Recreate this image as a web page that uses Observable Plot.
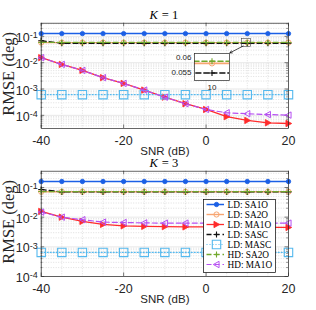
<!DOCTYPE html>
<html><head><meta charset="utf-8">
<script src="https://cdn.jsdelivr.net/npm/d3@7"></script>
<script src="https://cdn.jsdelivr.net/npm/@observablehq/plot@0.6"></script>
<style>
body{margin:0;background:#fff;}
#root{position:relative;width:316px;height:310px;overflow:hidden;background:#fff;}
.abs{position:absolute;}
</style></head><body><div id="root"></div>
<script>
// ---------- data ----------
const snr = [-40,-35,-30,-25,-20,-15,-10,-5,0,5,10,15,20];
const seriesNames = ["LD: SA1O","LD: SA2O","LD: MA1O","LD: SASC","LD: MASC","HD: SA2O","HD: MA1O"];

const k1_ld_sa1o = [0.127,0.127,0.127,0.127,0.127,0.127,0.127,0.127,0.127,0.127,0.127,0.127,0.127];
const k1_ld_sa2o = [0.058,0.058,0.058,0.058,0.058,0.058,0.058,0.058,0.058,0.058,0.058,0.058,0.058];
const k1_ld_ma1o = [0.0155,0.0086,0.0051,0.0027,0.00163,0.00091,0.00049,0.000276,0.000167,0.000089,0.000064,0.000052,0.000049];
const k1_ld_sasc = [0.068,0.0548,0.0548,0.0548,0.0548,0.0548,0.0548,0.0548,0.0548,0.0548,0.0548,0.0548,0.0548];
const k1_ld_masc = [0.00061,0.00061,0.00061,0.00061,0.00061,0.00061,0.00061,0.00061,0.00061,0.00061,0.00061,0.00061,0.00061];
const k1_hd_sa2o = [0.0587,0.0587,0.0587,0.0587,0.0587,0.0587,0.0587,0.0587,0.0587,0.0587,0.0587,0.0587,0.0587];
const k1_hd_ma1o = [0.0155,0.0086,0.0051,0.0027,0.00163,0.00091,0.00049,0.000276,0.000167,0.000125,0.000115,0.000107,0.000102];

const k3_ld_sa1o = [0.159,0.159,0.159,0.159,0.159,0.159,0.159,0.159,0.159,0.159,0.159,0.159,0.159];
const k3_ld_sa2o = [0.072,0.072,0.072,0.072,0.072,0.072,0.072,0.072,0.072,0.072,0.072,0.072,0.072];
const k3_ld_ma1o = [0.0156,0.0100,0.0072,0.0057,0.0051,0.0049,0.0048,0.0047,0.0047,0.0046,0.0046,0.0045,0.0045];
const k3_ld_sasc = [0.086,0.071,0.071,0.071,0.071,0.071,0.071,0.071,0.071,0.071,0.071,0.071,0.071];
const k3_ld_masc = [0.00065,0.00065,0.00065,0.00065,0.00065,0.00065,0.00065,0.00065,0.00065,0.00065,0.00065,0.00065,0.00065];
const k3_hd_sa2o = [0.073,0.073,0.073,0.073,0.073,0.073,0.073,0.073,0.073,0.073,0.073,0.073,0.073];
const k3_hd_ma1o = [0.0148,0.0100,0.0082,0.0068,0.0066,0.0064,0.0063,0.0063,0.0063,0.0063,0.0063,0.0063,0.0063];

const xTicks = [-40,-20,0,20];
const xTickLabels = ["-40","-20","0","20"];
const xMinor = [-35,-30,-25,-15,-10,-5,5,10,15];
const yTicks = [1e-4,1e-3,1e-2,1e-1];
const yTickLabels = ["10^-4","10^-3","10^-2","10^-1"];
const k1Domain = [3.16e-5, 0.316];
const k3Domain = [1e-4, 0.354];

// inset (K = 1) zoom region and annotation
const insetXDomain = [9.3, 10.7];
const insetYDomain = [0.0523, 0.0613];
const insetYTicks = [0.055, 0.06];
const insetYTickLabels = ["0.055", "0.06"];
const insetXTicks = [10];
const zoomBox = [{x1: 8.7, x2: 10.9, y1: 0.04, y2: 0.08}];
const zoomArrow = [{x1: 9.0, y1: 0.043, x2: 5.8, y2: 0.0236}];

// ---------- styles ----------
const triRight = {draw(c, s){const r=Math.sqrt(s/Math.PI); c.moveTo(r,0); c.lineTo(-r*0.8,-r); c.lineTo(-r*0.8,r); c.closePath();}};
const triLeft  = {draw(c, s){const r=Math.sqrt(s/Math.PI); c.moveTo(-r,0); c.lineTo(r*0.8,-r); c.lineTo(r*0.8,r); c.closePath();}};
const plusSym  = {draw(c, s){const r=Math.sqrt(s/Math.PI); c.moveTo(-r,0); c.lineTo(r,0); c.moveTo(0,-r); c.lineTo(0,r);}};
const squareSym= {draw(c, s){const r=Math.sqrt(s/Math.PI); c.rect(-r,-r,2*r,2*r);}};
const circleSym= {draw(c, s){const r=Math.sqrt(s/Math.PI); c.moveTo(r,0); c.arc(0,0,r,0,2*Math.PI);}};

const styles = [
  {stroke:"#1b5fe5", dash:null,  symbol:circleSym, fill:"#1b5fe5", r:2.2, sw:1.5, msw:0.8},
  {stroke:"#f7a571", dash:null,  symbol:circleSym, fill:"none",    r:2.6, sw:1.4, msw:1},
  {stroke:"#ff2b2b", dash:null,  symbol:triRight,  fill:"#ff2b2b", r:3.2, sw:1.3, msw:0.8},
  {stroke:"#111111", dash:"5,3", symbol:plusSym,   fill:"none",    r:3.0, sw:1.3, msw:1.1},
  {stroke:"#55b9ee", dash:"1,2", symbol:squareSym, fill:"none",    r:4.2, sw:1.2, msw:1.1},
  {stroke:"#72a82c", dash:"5,3", symbol:plusSym,   fill:"none",    r:3.0, sw:1.3, msw:1.1},
  {stroke:"#b64ff2", dash:"5,3", symbol:triLeft,   fill:"none",    r:3.2, sw:1.2, msw:1}
];

const W = 316, H = 148, ML = 40.7, MR = 28, MT = 22.7, MB = 20;
const FW = W - ML - MR, FH = H - MT - MB;
const AX = "#262626";

function seriesMarks(valsList, extra = {}) {
  const out = [];
  valsList.forEach((vals, k) => {
    const st = styles[k];
    const rows = snr.map((x, i) => ({x, y: vals[i]}));
    out.push(Plot.line(rows, {x: "x", y: "y", stroke: st.stroke, strokeWidth: st.sw, strokeDasharray: st.dash, ...extra}));
    out.push(Plot.dot(rows, {x: "x", y: "y", symbol: st.symbol, r: st.r, stroke: st.stroke, fill: st.fill, strokeWidth: st.msw, ...extra}));
  });
  return out;
}

function supLabels(svg) {
  svg.querySelectorAll('g[aria-label="y-axis tick label"] text').forEach(t => {
    const m = t.textContent.match(/^10\^(.*)$/);
    if (!m) return;
    t.textContent = "";
    const ns = "http://www.w3.org/2000/svg";
    const a = document.createElementNS(ns, "tspan"); a.textContent = "10";
    const b = document.createElementNS(ns, "tspan"); b.textContent = m[1];
    b.setAttribute("dy", "-0.42em"); b.setAttribute("font-size", "0.72em");
    t.appendChild(a); t.appendChild(b);
  });
}

function makePanel(kText, domain, valsList, extraMarks = []) {
  const minorY = d3.scaleLog().domain(domain).ticks(20).filter(v => !yTicks.some(t => Math.abs(v / t - 1) < 1e-9));
  const svg = Plot.plot({
    width: W, height: H, marginLeft: ML, marginRight: MR, marginTop: MT, marginBottom: MB,
    x: {domain: [-40, 20]},
    y: {type: "log", domain},
    style: {background: "transparent", overflow: "visible", fontFamily: "'Liberation Sans', Arial, sans-serif", color: AX},
    marks: [
      Plot.gridX(xMinor, {stroke: "#c9c9c9", strokeOpacity: 1, strokeWidth: 0.6, strokeDasharray: "1,1.5"}),
      Plot.gridY(minorY, {stroke: "#c9c9c9", strokeOpacity: 1, strokeWidth: 0.6, strokeDasharray: "1,1.5"}),
      Plot.gridX(xTicks, {stroke: "#dedede", strokeOpacity: 1, strokeWidth: 0.7}),
      Plot.gridY(yTicks, {stroke: "#dedede", strokeOpacity: 1, strokeWidth: 0.7}),
      Plot.tickY(yTicks, {y: d => d, insetRight: FW - 3.5, stroke: AX, strokeWidth: 0.6}),
      Plot.tickY(yTicks, {y: d => d, insetLeft: FW - 3.5, stroke: AX, strokeWidth: 0.6}),
      Plot.tickY(minorY, {y: d => d, insetRight: FW - 1.8, stroke: AX, strokeWidth: 0.5}),
      Plot.tickY(minorY, {y: d => d, insetLeft: FW - 1.8, stroke: AX, strokeWidth: 0.5}),
      Plot.tickX(xTicks, {x: d => d, insetTop: FH - 3.5, stroke: AX, strokeWidth: 0.6}),
      Plot.tickX(xTicks, {x: d => d, insetBottom: FH - 3.5, stroke: AX, strokeWidth: 0.6}),
      ...seriesMarks(valsList),
      ...extraMarks,
      Plot.frame({stroke: AX, strokeWidth: 0.7}),
      Plot.axisX(xTicks, {tickSize: 0, tickPadding: 8, tickFormat: d => xTickLabels[xTicks.indexOf(d)], fontSize: 12.5, label: null, fill: AX}),
      Plot.axisY(yTicks, {tickSize: 0, tickPadding: 3.5, tickFormat: d => yTickLabels[yTicks.indexOf(d)], fontSize: 12.5, label: null, fill: AX, dy: 1.5}),
      Plot.text(["SNR (dB)"], {frameAnchor: "bottom", text: d => d, dy: 22.7, lineAnchor: "middle", fontSize: 11.5, fill: AX}),
      Plot.text(["RMSE (deg)"], {frameAnchor: "left", text: d => d, dx: -32.7, dy: -2, rotate: -90, textAnchor: "middle", lineAnchor: "middle", fontSize: 16.5, fontFamily: "'Liberation Serif', 'Times New Roman', serif", fill: AX}),
      Plot.text(["K"], {frameAnchor: "top", text: d => d, dx: -7, dy: -8, textAnchor: "end", lineAnchor: "middle", fontSize: 12.5, fontStyle: "italic", fontFamily: "'Liberation Serif', serif", fill: "#000"}),
      Plot.text([kText], {frameAnchor: "top", text: d => d, dx: -3, dy: -8, textAnchor: "start", lineAnchor: "middle", fontSize: 12.5, fontFamily: "'Liberation Serif', serif", fill: "#000"})
    ]
  });
  supLabels(svg);
  return svg;
}

const root = document.getElementById("root");

const topPanel = makePanel("= 1", k1Domain,
  [k1_ld_sa1o, k1_ld_sa2o, k1_ld_ma1o, k1_ld_sasc, k1_ld_masc, k1_hd_sa2o, k1_hd_ma1o],
  [
    Plot.rect(zoomBox, {x1: "x1", x2: "x2", y1: "y1", y2: "y2", fill: "none", stroke: "#444", strokeWidth: 0.6}),
    Plot.arrow(zoomArrow, {x1: "x1", y1: "y1", x2: "x2", y2: "y2", stroke: "#000", strokeWidth: 0.7, headLength: 5})
  ]);
const topDiv = document.createElement("div"); topDiv.className = "abs"; topDiv.style.left = "0px"; topDiv.style.top = "0px";
topDiv.appendChild(topPanel); root.appendChild(topDiv);

const botPanel = makePanel("= 3", k3Domain,
  [k3_ld_sa1o, k3_ld_sa2o, k3_ld_ma1o, k3_ld_sasc, k3_ld_masc, k3_hd_sa2o, k3_hd_ma1o]);
const botDiv = document.createElement("div"); botDiv.className = "abs"; botDiv.style.left = "0px"; botDiv.style.top = "148px";
botDiv.appendChild(botPanel); root.appendChild(botDiv);

// ---------- inset ----------
const insetVals = [k1_ld_sa2o, k1_ld_sasc, k1_hd_sa2o];
const insetStyleIdx = [1, 3, 5];
const insetMarks = [Plot.frame({fill: "white", stroke: "none"})];
insetVals.forEach((vals, j) => {
  const st = styles[insetStyleIdx[j]];
  const rows = snr.map((x, i) => ({x, y: vals[i]}));
  insetMarks.push(Plot.line(rows, {x: "x", y: "y", stroke: st.stroke, strokeWidth: st.sw + 0.3, strokeDasharray: st.dash, clip: true}));
  insetMarks.push(Plot.dot(rows, {x: "x", y: "y", symbol: st.symbol, r: st.r, stroke: st.stroke, fill: st.fill, strokeWidth: st.msw, clip: true}));
});
const insetPlot = Plot.plot({
  width: 67, height: 41, marginLeft: 30, marginRight: 2, marginTop: 2, marginBottom: 12,
  x: {domain: insetXDomain},
  y: {domain: insetYDomain},
  style: {background: "transparent", overflow: "visible", fontFamily: "'Liberation Sans', Arial, sans-serif", color: AX},
  marks: [
    ...insetMarks,
    Plot.frame({stroke: AX, strokeWidth: 0.7}),
    Plot.axisY(insetYTicks, {tickSize: 0, tickPadding: 3, tickFormat: d => insetYTickLabels[insetYTicks.indexOf(d)], fontSize: 8, label: null, fill: AX}),
    Plot.axisX(insetXTicks, {tickSize: 0, tickPadding: 4, tickFormat: d => String(d), fontSize: 8, label: null, fill: AX})
  ]
});
const insetDiv = document.createElement("div"); insetDiv.className = "abs"; insetDiv.style.left = "164px"; insetDiv.style.top = "51px";
insetDiv.appendChild(insetPlot); root.appendChild(insetDiv);

// ---------- legend (K = 3 panel) ----------
const lg = d3.create("svg").attr("width", 73).attr("height", 74)
  .style("position", "absolute").style("left", "203px").style("top", "198.5px").style("overflow", "visible");
lg.append("rect").attr("x", 0.5).attr("y", 0.5).attr("width", 72).attr("height", 73).attr("fill", "white").attr("stroke", "#000").attr("stroke-width", 0.7);
seriesNames.forEach((name, k) => {
  const st = styles[k];
  const y = 5.5 + k * 10;
  lg.append("line").attr("x1", 3.5).attr("x2", 21).attr("y1", y).attr("y2", y)
    .attr("stroke", st.stroke).attr("stroke-width", st.sw).attr("stroke-dasharray", st.dash);
  lg.append("path").attr("transform", `translate(13.5,${y})`)
    .attr("d", d3.symbol().type(st.symbol).size(st.r * st.r * Math.PI)())
    .attr("fill", st.fill).attr("stroke", st.stroke).attr("stroke-width", st.msw);
  lg.append("text").attr("x", 24.5).attr("y", y).attr("dy", "0.35em")
    .attr("font-family", "'Liberation Serif', 'Times New Roman', serif").attr("font-size", 9.3).attr("fill", "#000").text(name);
});
root.appendChild(lg.node());
</script></body></html>
